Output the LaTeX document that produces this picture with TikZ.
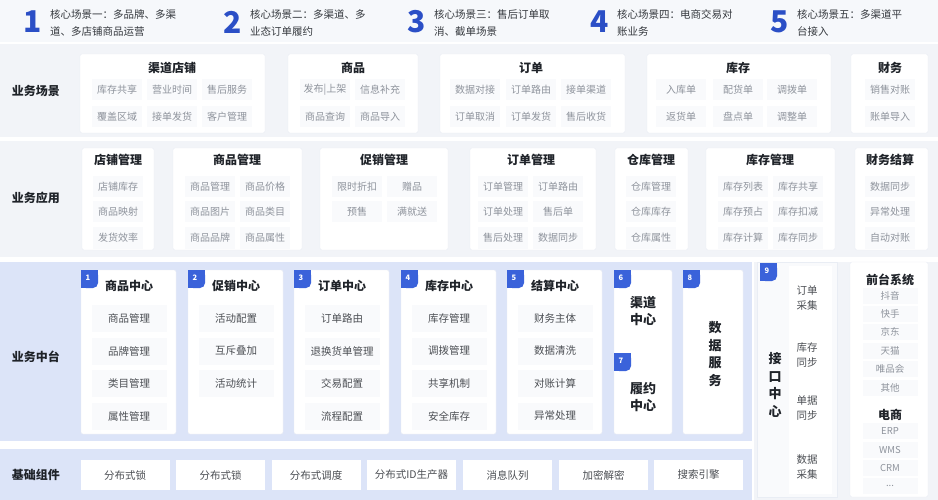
\documentclass[tikz,border=0pt]{standalone}
\usepackage{fontspec}
\setmainfont{Noto Sans CJK SC}
\usetikzlibrary{positioning}

\definecolor{topbg}{HTML}{F6F8FB}
\definecolor{bandgrey}{HTML}{F2F4F8}
\definecolor{bandblue}{HTML}{DCE4F8}
\definecolor{itembg}{HTML}{F9FAFC}
\definecolor{itemtext}{HTML}{8E939C}
\definecolor{darktext}{HTML}{1F2329}
\definecolor{numblue}{HTML}{2B4FC6}
\definecolor{tagblue}{HTML}{3A62DA}
\definecolor{cardline}{HTML}{E9EDF4}

\newcommand{\tagbox}[3]{% x, y, number
  \fill[tagblue,rounded corners=5pt] (#1,#2) rectangle ++(17,18);
  \fill[tagblue] (#1,#2) rectangle ++(17,9);
  \fill[tagblue] (#1,#2) rectangle ++(9,18);
  \node[tagnum] (tag#3) at (#1+7,#2+8) {#3};}

\begin{document}
\begin{tikzpicture}[x=1pt,y=-1pt,
    card/.style={fill=white,draw=cardline,line width=0.4pt,rounded corners=2pt},
    item/.style={fill=itembg,text=itemtext,font=\fontsize{10}{12}\selectfont,minimum width=50pt,minimum height=21pt,inner sep=0pt},
    miditem/.style={item,text=darktext!80,font=\fontsize{10.5}{12}\selectfont,minimum width=75pt,minimum height=27pt},
    sideitem/.style={item,font=\fontsize{9.5}{11}\selectfont,minimum width=55pt,minimum height=16pt},
    baseitem/.style={fill=white,text=darktext!80,font=\fontsize{10.5}{12}\selectfont,minimum width=89pt,minimum height=30pt,inner sep=0pt},
    ctitle/.style={font=\bfseries\fontsize{12}{14}\selectfont,text=darktext},
    rowlabel/.style={font=\bfseries\fontsize{12}{14}\selectfont,text=darktext},
    vtext/.style={font=\bfseries\fontsize{13}{17.5}\selectfont,text=darktext,align=center,inner sep=0pt},
    bignum/.style={font=\bfseries\fontsize{30}{30}\selectfont,text=numblue,inner sep=0pt},
    scene/.style={font=\fontsize{10.5}{17}\selectfont,text=darktext!90,align=left,inner sep=0pt},
    tagnum/.style={font=\bfseries\fontsize{7.5}{8}\selectfont,text=white,inner sep=0pt}]
  \useasboundingbox (0,0) rectangle (938,500);
  \fill[white] (0,0) rectangle (938,500);

  % core scenes
  \fill[topbg] (0,0) rectangle (938,42);
  \foreach \x/\n/\a/\b in {33/1/核心场景一：多品牌、多渠/道、多店铺商品运营,
      233/2/核心场景二：多渠道、多/业态订单履约,
      417/3/核心场景三：售后订单取/消、截单场景,
      600/4/核心场景四：电商交易对/账业务,
      780/5/核心场景五：多渠道平/台接入} {
    \node[bignum] (num\n) at (\x,22) {\n};
    \node[scene,anchor=west] (scene\n) at (\x+17,23) {\a\\\b};
  }

  % business scenes
  \fill[bandgrey] (0,44) rectangle (938,137);
  \node[rowlabel] (rowscene) at (36,91) {业务场景};
  \foreach \l/\r/\cx/\t [count=\i] in {80/265/172/渠道店铺, 288/418/353/商品,
      440/625/531/订单, 647/831/738/库存, 851/928/890/财务} {
    \fill[card] (\l,54) rectangle (\r,133);
    \node[ctitle] (st\i) at (\cx,68) {\t};
  }
  \foreach \x/\y/\t [count=\i] in {117/90/库存共享, 172/90/营业时间, 227/90/售后服务,
      117/117/覆盖区域, 172/117/接单发货, 227/117/客户管理,
      325/90/发布|上架, 380/90/信息补充, 325/117/商品查询, 380/117/商品导入,
      475/90/数据对接, 531/90/订单路由, 586/90/接单渠道,
      475/117/订单取消, 531/117/订单发货, 586/117/售后收货,
      681/90/入库单, 738/90/配货单, 792/90/调拨单,
      681/117/返货单, 738/117/盘点单, 792/117/调整单,
      890/90/销售对账, 890/117/账单导入}
    \node[item] (sc\i) at (\x,\y) {\t};

  % business applications
  \fill[bandgrey] (0,141) rectangle (938,257);
  \node[rowlabel] (rowapp) at (36,198) {业务应用};
  \foreach \l/\r/\cx/\t [count=\i] in {82/154/118/店铺管理, 173/302/237/商品管理,
      320/448/384/促销管理, 470/596/531/订单管理, 615/688/651/仓库管理,
      706/835/770/库存管理, 855/928/890/财务结算} {
    \fill[card] (\l,148) rectangle (\r,250);
    \node[ctitle] (at\i) at (\cx,160) {\t};
  }
  \foreach \x/\y/\t [count=\i] in {118/187/店铺库存, 118/212/商品映射, 118/238/发货效率,
      210/187/商品管理, 265/187/商品价格, 210/212/商品图片,
      265/212/商品类目, 210/238/商品品牌, 265/238/商品属性,
      357/187/限时折扣, 412/187/赠品, 357/212/预售, 412/212/满就送,
      503/187/订单管理, 558/187/订单路由, 503/212/订单处理,
      558/212/售后单, 503/238/售后处理, 558/238/数据同步,
      651/187/仓库管理, 651/212/仓库库存, 651/238/仓库属性,
      743/187/库存列表, 798/187/库存共享, 743/212/库存预占,
      798/212/库存扣减, 743/238/库存计算, 798/238/库存同步,
      890/187/数据同步, 890/212/异常处理, 890/238/自动对账}
    \node[item] (ap\i) at (\x,\y) {\t};

  % business middle platform
  \fill[bandblue] (0,262) rectangle (752,441);
  \node[rowlabel] (rowmid) at (36,357) {业务中台};
  \foreach \l/\n/\t/\lst in {81/1/商品中心/{商品管理,品牌管理,类目管理,属性管理},
      188/2/促销中心/{活动配置,互斥叠加,活动统计},
      294/3/订单中心/{订单路由,退换货单管理,交易配置,流程配置},
      401/4/库存中心/{库存管理,调拨管理,共享机制,安全库存},
      507/5/结算中心/{财务主体,数据清洗,对账计算,异常处理}} {
    \fill[card] (\l,270) rectangle ++(95,164);
    \tagbox{\l}{270}{\n}
    \node[ctitle] (mt\n) at (\l+48,286) {\t};
    \foreach \s [count=\j] in \lst
      \node[miditem] (mi\n-\j) at (\l+48,286+32.5*\j) {\s};
  }
  \fill[card] (614,270) rectangle (672,434);
  \tagbox{614}{270}{6}
  \node[vtext] (channel) at (643,311) {渠道\\中心};
  \tagbox{614}{353}{7}
  \node[vtext] (fulfil) at (643,397) {履约\\中心};
  \fill[card] (683,270) rectangle (743,434);
  \tagbox{683}{270}{8}
  \node[vtext] (dataserv) at (715,354) {数\\据\\服\\务};

  % interface center and front systems
  \fill[bandgrey] (754,262) rectangle (938,500);
  \fill[itembg,draw=cardline,line width=0.4pt] (757,262) rectangle (837,497);
  \fill[white] (789,266) rectangle (832,494);
  \tagbox{760}{263}{9}
  \node[vtext] (iface) at (775,385) {接\\口\\中\\心};
  \foreach \y/\a/\b [count=\i] in {298/订单/采集, 355/库存/同步, 408/单据/同步, 467/数据/采集}
    \node[font=\fontsize{10.5}{15}\selectfont,text=darktext!80,align=center,inner sep=0pt] (if\i) at (807,\y) {\a\\\b};
  \fill[card] (850,262) rectangle (928,497);
  \node[ctitle] (front) at (890,280) {前台系统};
  \foreach \y/\t [count=\i] in {296/抖音, 314/快手, 332/京东, 351/天猫, 369/唯品会, 388/其他}
    \node[sideitem] (fr\i) at (890,\y) {\t};
  \node[ctitle] (ecom) at (890,415) {电商};
  \foreach \y/\t [count=\i] in {431/ERP, 450/WMS, 468/CRM}
    \node[sideitem] (ec\i) at (890,\y) {\t};
  \node[sideitem] (ec4) at (890,486) {...};

  % base components
  \fill[bandblue] (0,449) rectangle (752,500);
  \node[rowlabel] (rowbase) at (36,475) {基础组件};
  \foreach \x/\t [count=\i] in {125/分布式锁, 220.5/分布式锁, 316/分布式调度,
      411.5/分布式ID生产器, 507.5/消息队列, 603.5/加密解密, 698.5/搜索引擎}
    \node[baseitem] (base\i) at (\x,475) {\t};
\end{tikzpicture}
\end{document}
